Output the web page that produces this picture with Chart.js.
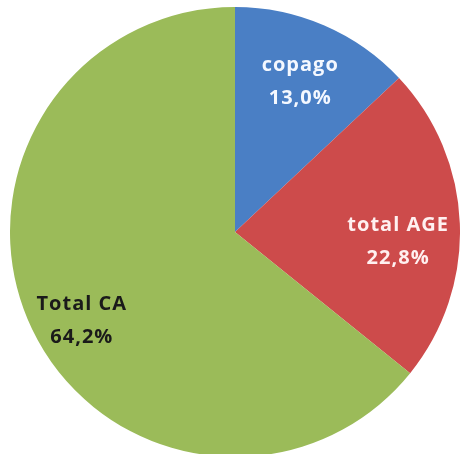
<!DOCTYPE html>
<html>
<head>
<meta charset="utf-8">
<script src="https://cdn.jsdelivr.net/npm/chart.js@4/dist/chart.umd.min.js"></script>
<style>
  html, body { margin: 0; padding: 0; background: #ffffff; width: 461px; height: 454px; overflow: hidden; }
  #wrap { position: absolute; left: 10px; top: 7px; width: 450px; height: 450px; }
</style>
</head>
<body>
<div id="wrap"><canvas id="c" width="450" height="450"></canvas></div>
<script>
const categories = ["copago", "total AGE", "Total CA"];
const values = [13.0, 22.8, 64.2];
const valueLabels = ["13,0%", "22,8%", "64,2%"];

const sliceColors = ["#4A7FC5", "#CD4B4B", "#9BBB59"];
const labelColors = ["#F4F8FF", "#FFF0F0", "#1a1a1a"];
// label placement tweaks (pixels) applied on top of the arc centroid
const labelNudge = [[0, 0], [-1, 15], [-5, 17]];

const labelPlugin = {
  id: 'sliceLabels',
  afterDatasetsDraw(chart) {
    const ctx = chart.ctx;
    const meta = chart.getDatasetMeta(0);
    ctx.save();
    ctx.font = 'bold 20px "Open Sans", "Liberation Sans", sans-serif';
    ctx.textAlign = 'center';
    ctx.textBaseline = 'middle';
    if ('letterSpacing' in ctx) ctx.letterSpacing = '1px';
    meta.data.forEach((arc, i) => {
      const p = arc.getProps(['x', 'y', 'startAngle', 'endAngle', 'outerRadius'], true);
      const mid = (p.startAngle + p.endAngle) / 2;
      const rr = p.outerRadius * 0.73;
      const x = p.x + Math.cos(mid) * rr + labelNudge[i][0];
      const y = p.y + Math.sin(mid) * rr + labelNudge[i][1];
      ctx.fillStyle = labelColors[i];
      ctx.fillText(categories[i], x, y - 16);
      ctx.fillText(valueLabels[i], x, y + 17);
    });
    ctx.restore();
  }
};

new Chart(document.getElementById('c'), {
  type: 'pie',
  data: {
    labels: categories,
    datasets: [{
      data: values,
      backgroundColor: sliceColors,
      borderWidth: 0
    }]
  },
  options: {
    responsive: false,
    animation: false,
    layout: { padding: 0 },
    plugins: {
      legend: { display: false },
      tooltip: { enabled: false }
    }
  },
  plugins: [labelPlugin]
});
</script>
</body>
</html>
